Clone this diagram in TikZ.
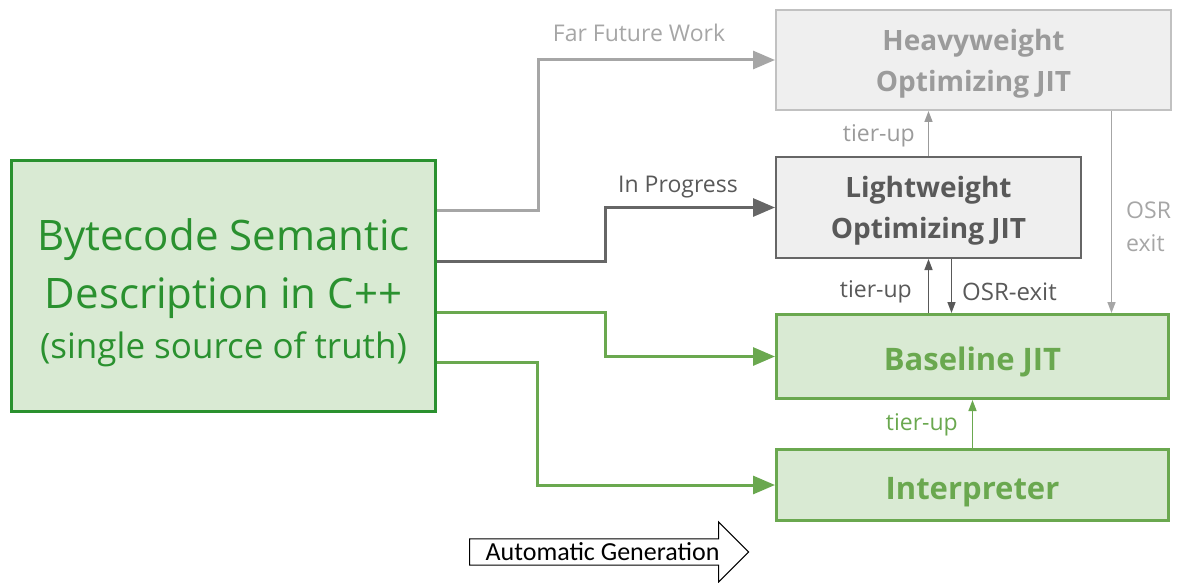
\documentclass[tikz,border=0pt]{standalone}
\usepackage{fontspec}
\setmainfont{Open Sans}
\newfontfamily\calibri{Carlito}
\usepackage{xcolor}
\usetikzlibrary{positioning,arrows.meta,shapes.arrows}

\definecolor{srcgreen}{HTML}{2A912F}
\definecolor{lightgreen}{HTML}{D9EAD3}
\definecolor{midgreen}{HTML}{6AA84F}
\definecolor{boxgray}{HTML}{EFEFEF}
\definecolor{fargray}{HTML}{A6A6A6}
\definecolor{fartext}{HTML}{9B9B9B}
\definecolor{darkgray}{HTML}{666666}
\definecolor{darktext}{HTML}{595959}

\begin{document}
\begin{tikzpicture}[x=1pt, y=-1pt,
    tierbox/.style={draw, rectangle, inner sep=0pt, align=center, font=\bfseries\fontsize{28}{41}\selectfont},
    label/.style={font=\fontsize{23}{25}\selectfont, inner sep=0pt},
    bigtip/.style={-{Triangle[length=22pt,width=18pt]}, line width=3pt},
    smalltip/.style={-{Triangle[length=11pt,width=8pt]}, line width=1.5pt}]
    \useasboundingbox (0,0) rectangle (1177,583);

    % source of truth
    \node[draw=srcgreen, fill=lightgreen, line width=3.5pt, minimum width=424pt, minimum height=251pt, align=center, text=srcgreen, font=\fontsize{42}{58}\selectfont] (src) at (223.5,286) {\\[-12pt]Bytecode Semantic\\Description in C++\\[-8pt]{\fontsize{35}{40}\selectfont (single source of truth)}};

    % execution tiers
    \node[tierbox, draw=fargray!70, fill=boxgray, line width=2pt, text=fartext, minimum width=395pt, minimum height=100pt] (heavy) at (973.5,60) {\strut Heavyweight\\Optimizing JIT};
    \node[tierbox, draw=darkgray, fill=boxgray, line width=2pt, text=darktext, minimum width=305pt, minimum height=101pt] (light) at (928.5,207.5) {\strut Lightweight\\Optimizing JIT};
    \node[tierbox, draw=midgreen, fill=lightgreen, line width=3pt, text=midgreen, minimum width=392pt, minimum height=84pt, text height=27pt, text depth=0pt, font=\bfseries\fontsize{31}{36}\selectfont] (base) at (972.5,356.5) {Baseline JIT};
    \node[tierbox, draw=midgreen, fill=lightgreen, line width=3pt, text=midgreen, minimum width=392pt, minimum height=71pt, text height=28pt, text depth=0pt, font=\bfseries\fontsize{31}{36}\selectfont] (interp) at (972.5,485) {Interpreter};

    % generated from the description
    \draw[bigtip, fargray] ([yshift=76pt]src.east) -- ++(101,0) |- (heavy.west);
    \draw[bigtip, darkgray] ([yshift=25pt]src.east) -- ++(168,0) |- (light.west);
    \draw[bigtip, midgreen] ([yshift=-26pt]src.east) -- ++(168,0) |- (base.west);
    \draw[bigtip, midgreen] ([yshift=-76pt]src.east) -- ++(100,0) |- (interp.west);
    \node[label, text=fargray] (farlbl) at (639,33) {Far Future Work};
    \node[label, text=darktext] (proglbl) at (678,187) {In Progress};

    % tier transitions
    \coordinate (osrtop) at ([xshift=23pt]light.south);
    \coordinate (exittop) at ([xshift=138pt]heavy.south);
    \draw[smalltip, fartext] (light.north) -- (heavy.south -| light.north);
    \node[label, text=fartext, anchor=east] (tierlbl1) at (915,136) {tier-up};
    \draw[smalltip, darktext] (base.north -| light.south) -- (light.south);
    \draw[smalltip, darktext] (osrtop) -- (base.north -| osrtop);
    \node[label, text=darktext, anchor=east] (tierlbl2) at (912,292) {tier-up};
    \node[label, text=darktext, anchor=west, font=\fontsize{24}{25}\selectfont] (osrlbl) at (962,292) {OSR-exit};
    \draw[smalltip, fargray] (exittop) -- (base.north -| exittop);
    \node[label, text=fargray, anchor=west, align=left, font=\fontsize{23}{33}\selectfont] (exitlbl) at (1126,227) {OSR\\exit};
    \draw[smalltip, midgreen] (interp.north) -- (base.south);
    \node[label, text=midgreen, anchor=east] (tierlbl3) at (958,425) {tier-up};

    % legend
    \node[draw, single arrow, fill=white, line width=1.2pt, minimum height=279pt, minimum width=60pt, single arrow head extend=15pt, inner xsep=2pt, inner ysep=2pt, font=\calibri\fontsize{26}{28}\selectfont, anchor=tail] (autogen) at (469,552) {Automatic Generation};
\end{tikzpicture}
\end{document}
